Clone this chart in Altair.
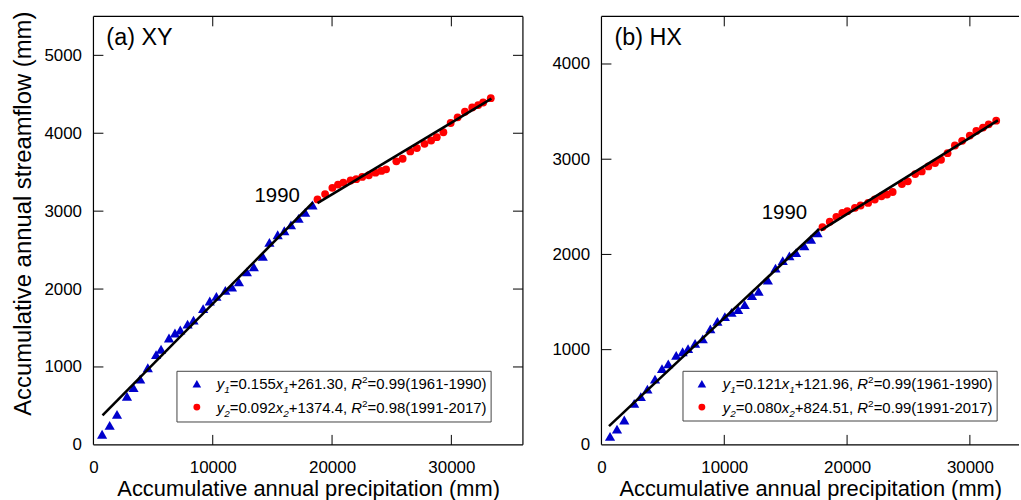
import altair as alt
import pandas as pd

# ---------------- data: cumulative annual precipitation / streamflow (mm) ----------------
# (a) XY station
xy_pre_early = [725, 1360, 1975, 2808, 3358, 3917, 4558, 5250, 5667, 6333, 6833, 7278, 7889, 8389, 9194,
                9750, 10306, 11056, 11611, 12194, 12861, 13444, 14194, 14750, 15444, 16000, 16556, 17194, 17750, 18361]
xy_run_early = [136, 250, 391, 624, 735, 845, 990, 1159, 1227, 1372, 1436, 1474, 1550, 1601, 1749,
                1847, 1907, 1983, 2025, 2093, 2221, 2284, 2420, 2599, 2697, 2748, 2824, 2908, 2985, 3079]
xy_pre_late = [18778, 19417, 20028, 20500, 20944, 21556, 22028, 22528, 23083, 23639, 24139, 24528, 25389, 25917,
               26556, 27111, 27750, 28306, 28778, 29333, 29944, 30528, 31139, 31750, 32250, 32667, 33306]
xy_run_late = [3150, 3219, 3299, 3341, 3367, 3393, 3410, 3439, 3461, 3494, 3516, 3537, 3639, 3673,
               3767, 3809, 3864, 3907, 3949, 4013, 4131, 4204, 4276, 4331, 4361, 4395, 4450]

# (b) HX station
hx_pre_early = [698, 1265, 1857, 2664, 3205, 3742, 4360, 4931, 5440, 6087, 6610, 7050, 7623, 8246, 8864,
                9440, 10048, 10590, 11132, 11665, 12256, 12797, 13549, 14171, 14762, 15303, 15845, 16516, 17058, 17597]
hx_run_early = [90, 165, 261, 435, 506, 586, 691, 801, 850, 940, 978, 1010, 1065, 1114, 1219,
                1296, 1346, 1392, 1420, 1473, 1567, 1612, 1730, 1856, 1935, 1984, 2019, 2089, 2159, 2228]
hx_pre_late = [17996, 18590, 19128, 19612, 20017, 20639, 21100, 21714, 22255, 22797, 23250, 23711, 24463, 24948,
               25545, 26080, 26621, 27163, 27648, 28181, 28779, 29369, 29992, 30525, 31067, 31528, 32142]
hx_run_late = [2287, 2343, 2395, 2437, 2454, 2489, 2514, 2541, 2577, 2611, 2629, 2656, 2739, 2768,
               2844, 2872, 2924, 2959, 2994, 3063, 3144, 3193, 3248, 3297, 3332, 3366, 3405]

# fitted lines: slope, intercept and x-extent of each period
xy_fits = [(0.155, 261.30, 760, 18400), (0.092, 1374.4, 18780, 33360)]
hx_fits = [(0.121, 121.96, 614, 17730), (0.080, 824.51, 17860, 32280)]

# legend rows: (y-sub, slope, x-sub, intercept, R2, period)
xy_legend = [("1", "0.155", "1", "261.30", "0.99", "1961-1990"),
             ("2", "0.092", "2", "1374.4", "0.98", "1991-2017")]
hx_legend = [("1", "0.121", "1", "121.96", "0.99", "1961-1990"),
             ("2", "0.080", "2", "824.51", "0.99", "1991-2017")]

FONT = "Liberation Sans"
BLUE = "#0000CC"
RED = "#FF0000"
TICK_LEN = 10
FRAME_W = 1.2

# Arial / Liberation Sans advance widths (per 1000 em)
ADV = {**{d: 556 for d in "0123456789"}, ".": 278, ",": 278, "=": 584, "+": 584,
       "(": 333, ")": 333, "-": 333, " ": 278, "y": 500, "x": 500, "R": 722}
LEG_FS = 15
SMALL_FS = 10


def text_width(s, fs):
    return sum(ADV.get(c, 556) for c in s) * fs / 1000.0


def legend_pieces(rows, x0, baselines):
    recs = []
    for (ys, k, xs, b, r2, per), yb in zip(rows, baselines):
        segs = [("y", "i"), (ys, "sub"), ("=" + k, "n"), ("x", "i"), (xs, "sub"),
                ("+" + b + ", ", "n"), ("R", "i"), ("2", "sup"), ("=" + r2 + "(" + per + ")", "n")]
        cx = x0
        for s, kind in segs:
            recs.append({"t": s, "px": cx, "py": yb, "kind": kind})
            cx += text_width(s, SMALL_FS if kind in ("sub", "sup") else LEG_FS)
    return pd.DataFrame(recs)


def panel(tag, pre_e, run_e, pre_l, run_l, fits, leg_rows, xmax, ymax, yticks, width, height,
          year_xy, box, ytitle, right_side):
    pts = pd.DataFrame({"pre": pre_e + pre_l, "run": run_e + run_l,
                        "period": ["early"] * len(pre_e) + ["late"] * len(pre_l)})
    line_rows = []
    for i, (k, b, x0, x1) in enumerate(fits):
        for xv in (x0, x1):
            line_rows.append({"seg": i, "pre": xv, "run": k * xv + b})
    lines = pd.DataFrame(line_rows)

    xs = alt.Scale(domain=[0, xmax], nice=False, zero=False)
    ys = alt.Scale(domain=[0, ymax], nice=False, zero=False)

    common = dict(values=yticks, format="d", labelPadding=12, labelFlush=False,
                  labelOverlap=False, ticks=False, domain=False, grid=False)
    if ytitle:
        y_axis = alt.Axis(title="Accumulative annual streamflow (mm)", titleFontSize=24,
                          titlePadding=9, titleY=198, **common)
    else:
        y_axis = alt.Axis(title=None, **common)
    x_axis = alt.Axis(values=[0, 10000, 20000, 30000], format="d", labelPadding=15, labelFlush=False,
                      labelOverlap=False, ticks=False, domain=False, grid=False,
                      title="Accumulative annual precipitation (mm)", titlePadding=3)

    base = alt.Chart(pts)
    tri = base.transform_filter(alt.datum.period == "early").mark_point(
        shape="triangle-up", filled=True, size=105, color=BLUE, opacity=1).encode(
        x=alt.X("pre:Q", scale=xs, axis=x_axis),
        y=alt.Y("run:Q", scale=ys, axis=y_axis))
    dots = base.transform_filter(alt.datum.period == "late").mark_circle(
        size=62, color=RED, opacity=1).encode(x="pre:Q", y="run:Q")
    fit = alt.Chart(lines).mark_line(color="black", strokeWidth=2.6).encode(
        x="pre:Q", y="run:Q", detail="seg:N")

    # plot frame (right edge only where it falls inside the page)
    one = pd.DataFrame({"k": [0]})
    frame_style = dict(color="black", strokeWidth=FRAME_W)
    frame_parts = [
        alt.Chart(one).mark_rule(**frame_style).encode(x=alt.value(0), y=alt.value(0), y2=alt.value(height)),
        alt.Chart(one).mark_rule(**frame_style).encode(x=alt.value(0), x2=alt.value(width), y=alt.value(0)),
        alt.Chart(one).mark_rule(**frame_style).encode(x=alt.value(0), x2=alt.value(width), y=alt.value(height)),
    ]
    if right_side:
        frame_parts.append(alt.Chart(one).mark_rule(**frame_style).encode(
            x=alt.value(width), y=alt.value(0), y2=alt.value(height)))

    # inward ticks
    yt = pd.DataFrame({"v": [v for v in yticks if v > 0]})
    xt = pd.DataFrame({"v": [10000, 20000, 30000]})
    tick_style = dict(color="black", strokeWidth=1)
    ticks = [
        alt.Chart(yt).mark_rule(**tick_style).encode(y="v:Q", x=alt.value(0), x2=alt.value(TICK_LEN)),
        alt.Chart(xt).mark_rule(**tick_style).encode(x="v:Q", y=alt.value(height - TICK_LEN), y2=alt.value(height)),
        alt.Chart(xt).mark_rule(**tick_style).encode(x="v:Q", y=alt.value(0), y2=alt.value(TICK_LEN)),
    ]
    if right_side:
        ticks.append(alt.Chart(yt).mark_rule(**tick_style).encode(
            y="v:Q", x=alt.value(width - TICK_LEN), x2=alt.value(width)))

    # panel tag and break-year annotation
    tag_txt = alt.Chart(pd.DataFrame({"t": [tag]})).mark_text(
        align="left", baseline="alphabetic", font=FONT, fontSize=23.5, color="black").encode(
        text="t:N", x=alt.value(13), y=alt.value(29))
    yr = alt.Chart(pd.DataFrame({"t": ["1990"], "pre": [year_xy[0]], "run": [year_xy[1]]})).mark_text(
        align="center", baseline="alphabetic", font=FONT, fontSize=20.5, color="black").encode(
        text="t:N", x="pre:Q", y="run:Q")

    # legend box
    bx0, by0, bx1, by1, mx, tx = box
    frame = alt.Chart(one).mark_rect(
        fill="white", stroke="#444444", strokeWidth=1).encode(
        x=alt.value(bx0), x2=alt.value(bx1), y=alt.value(by0), y2=alt.value(by1))
    row_mid = [by0 + 12.5, by0 + 36]
    marks = pd.DataFrame({"px": [mx, mx], "py": row_mid, "period": ["early", "late"]})
    leg_tri = alt.Chart(marks).transform_filter(alt.datum.period == "early").mark_point(
        shape="triangle-up", filled=True, size=75, color=BLUE, opacity=1).encode(
        x=alt.X("px:Q", scale=None, axis=None), y=alt.Y("py:Q", scale=None, axis=None))
    leg_dot = alt.Chart(marks).transform_filter(alt.datum.period == "late").mark_circle(
        size=48, color=RED, opacity=1).encode(
        x=alt.X("px:Q", scale=None, axis=None), y=alt.Y("py:Q", scale=None, axis=None))

    pieces = legend_pieces(leg_rows, tx, [row_mid[0] + 5.5, row_mid[1] + 5.5])
    styles = {"n": dict(fontSize=LEG_FS, fontStyle="normal", dy=0),
              "i": dict(fontSize=LEG_FS, fontStyle="italic", dy=0),
              "sub": dict(fontSize=SMALL_FS, fontStyle="italic", dy=4),
              "sup": dict(fontSize=SMALL_FS, fontStyle="normal", dy=-6)}
    leg_txt = []
    for kind, st in styles.items():
        leg_txt.append(alt.Chart(pieces).transform_filter(alt.datum.kind == kind).mark_text(
            align="left", baseline="alphabetic", font=FONT, color="black", **st).encode(
            text="t:N", x=alt.X("px:Q", scale=None, axis=None), y=alt.Y("py:Q", scale=None, axis=None)))

    return alt.layer(tri, dots, fit, *frame_parts, *ticks, tag_txt, yr,
                     frame, leg_tri, leg_dot, *leg_txt).properties(width=width, height=height)


W_A, W_B, H = 432, 420, 431
left = panel("(a) XY", xy_pre_early, xy_run_early, xy_pre_late, xy_run_late, xy_fits, xy_legend,
             36000, 5500, [0, 1000, 2000, 3000, 4000, 5000], W_A, H, (15400, 3120),
             (84, 357, 400, 408, 104, 124), True, True)
right = panel("(b) HX", hx_pre_early, hx_run_early, hx_pre_late, hx_run_late, hx_fits, hx_legend,
              34000, 4500, [0, 1000, 2000, 3000, 4000], W_B, H, (14900, 2371),
              (82, 357, 398, 407, 101, 122), False, False)

# the rotated y title rises about 5 px above the plot top, so the top padding is reduced by that much
chart = alt.hconcat(left, right, spacing=26).properties(
    padding={"left": 10, "top": 9, "right": 0, "bottom": 0},
    background="white",
).configure_view(stroke="transparent").configure_axis(
    labelFont=FONT, labelFontSize=17, labelColor="black",
    titleFont=FONT, titleFontSize=22, titleFontWeight="normal", titleColor="black",
)

chart.save("out.html", embed_options={"renderer": "svg", "actions": False})
